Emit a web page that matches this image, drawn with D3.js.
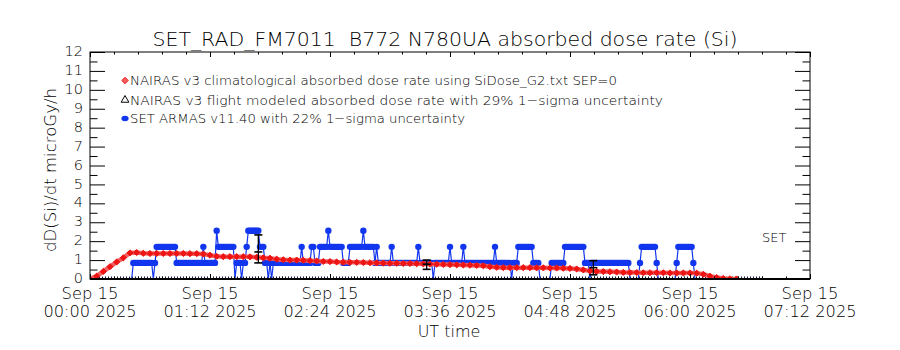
<!DOCTYPE html>
<html>
<head>
<meta charset="utf-8">
<script src="https://cdn.jsdelivr.net/npm/d3@7"></script>
<style>
  body { margin: 0; background: #fff; }
  text { font-family: "DejaVu Sans", sans-serif; font-weight: 200; fill: #000; }
</style>
</head>
<body>
<svg id="chart" width="900" height="350"></svg>
<script>
// Time is minutes after 2025-09-15 00:00 UT.
const xTickMinutes = [0, 72, 144, 216, 288, 360, 432];
const xTickDates = ["Sep 15", "Sep 15", "Sep 15", "Sep 15", "Sep 15", "Sep 15", "Sep 15"];
const xTickTimes = ["00:00 2025", "01:12 2025", "02:24 2025", "03:36 2025", "04:48 2025", "06:00 2025", "07:12 2025"];
const yTicks = [0, 1, 2, 3, 4, 5, 6, 7, 8, 9, 10, 11, 12];

// NAIRAS v3 climatological dose rate (microGy/h), one value every 4 minutes from 00:00
const nairasClimStep = 4;
const nairasClim = [
  0.00, 0.15, 0.40, 0.65, 0.90, 1.12, 1.38, 1.40, 1.36, 1.35,
  1.35, 1.35, 1.35, 1.35, 1.35, 1.34, 1.34, 1.32, 1.26, 1.20,
  1.18, 1.18, 1.18, 1.18, 1.17, 1.15, 1.12, 1.10, 1.05, 1.02,
  1.00, 1.00, 0.99, 0.97, 0.95, 0.93, 0.92, 0.90, 0.89, 0.88,
  0.88, 0.87, 0.86, 0.85, 0.84, 0.83, 0.83, 0.82, 0.82, 0.81,
  0.80, 0.79, 0.78, 0.77, 0.76, 0.75, 0.74, 0.73, 0.72, 0.70,
  0.65, 0.62, 0.60, 0.60, 0.60, 0.60, 0.60, 0.59, 0.59, 0.58,
  0.58, 0.57, 0.56, 0.53, 0.48, 0.43, 0.40, 0.39, 0.38, 0.37,
  0.35, 0.34, 0.34, 0.33, 0.33, 0.33, 0.33, 0.32, 0.32, 0.32,
  0.32, 0.31, 0.25, 0.15, 0.08, 0.03, 0.01, 0.00
];

// NAIRAS v3 flight-modelled points with their 1-sigma range
const modelTimes = [101, 202, 302];
const modelDose = [1.43, 0.78, 0.60];
const modelLow = [0.85, 0.51, 0.22];
const modelHigh = [2.33, 1.00, 0.97];

// SET ARMAS readings, one per minute from 00:00, as multiples of the instrument step
const armasStep = 1;
const armasQuantum = 0.85;
const armasRows = [
  "0000000000", "0000000000", "0000001111", "1111111101", "2222222222",
  "2211111111", "1111111121", "1111113222", "2222222011", "1011233333",
  "3322211010", "1111111111", "1111111211", "1112211122", "2223222222",
  "2211112222", "2222322222", "2121111111", "1211111111", "1111111211",
  "1111110111", "1111112111", "1111211111", "1111111111", "1112111111",
  "1110111222", "2222221111", "0000000111", "1111122222", "2222222111",
  "0111111111", "1111111111", "1111000000", "1222222222", "1000000000",
  "0012222222", "2210000000", "0000000000", "0000000000", "0000000000",
  "000000"
];

const legendLabels = [
  "NAIRAS v3 climatological absorbed dose rate using SiDose_G2.txt SEP=0",
  "NAIRAS v3 flight modeled absorbed dose rate with 29% 1\u2212sigma uncertainty",
  "SET ARMAS v11.40 with 22% 1\u2212sigma uncertainty"
];

const RED = "#ee1414", RED_LIGHT = "#f26060", BLUE = "#1236ee", NAVY = "#141440";

const plot = { left: 90, right: 810, top: 52, bottom: 279 };
const svg = d3.select("#chart");

const x = d3.scaleLinear().domain([0, 432]).range([plot.left, plot.right]);
const y = d3.scaleLinear().domain([0, 12]).range([plot.bottom, plot.top]);

svg.append("defs").append("clipPath").attr("id", "plot-clip")
  .append("rect")
  .attr("x", plot.left).attr("y", plot.top)
  .attr("width", plot.right - plot.left).attr("height", plot.bottom - plot.top);

const climData = nairasClim.map((v, i) => ({ t: i * nairasClimStep, v }));
const armasData = armasRows.join("").split("").map((c, i) => ({ t: i * armasStep, v: +c * armasQuantum }));
const modelData = modelTimes.map((t, i) => ({ t, v: modelDose[i], lo: modelLow[i], hi: modelHigh[i] }));

const g = svg.append("g").attr("clip-path", "url(#plot-clip)");

// flight track along the zero line
const trackEnd = d3.max(armasData, d => d.t);
g.append("line")
  .attr("x1", x(0)).attr("x2", x(trackEnd))
  .attr("y1", y(0) - 1.5).attr("y2", y(0) - 1.5)
  .attr("stroke", NAVY).attr("stroke-width", 2).attr("stroke-dasharray", "1 2");

// ARMAS: thin connecting line and filled dots
g.append("path")
  .datum(armasData)
  .attr("fill", "none").attr("stroke", BLUE).attr("stroke-width", 1.2)
  .attr("d", d3.line().x(d => x(d.t)).y(d => y(d.v)));
g.selectAll("circle.armas")
  .data(armasData.filter(d => d.v > 0))
  .join("circle").attr("class", "armas")
  .attr("cx", d => x(d.t)).attr("cy", d => y(d.v)).attr("r", 3.2)
  .attr("fill", BLUE);

// NAIRAS climatology: band plus diamond markers
g.append("path")
  .datum(climData)
  .attr("fill", "none").attr("stroke", RED_LIGHT).attr("stroke-width", 4.5)
  .attr("stroke-linejoin", "round")
  .attr("d", d3.line().x(d => x(d.t)).y(d => y(d.v)));
const diamond = d3.symbol().type(d3.symbolDiamond2).size(24);
g.selectAll("path.clim")
  .data(climData)
  .join("path").attr("class", "clim")
  .attr("transform", d => `translate(${x(d.t)},${y(d.v)})`)
  .attr("d", diamond)
  .attr("fill", RED).attr("stroke", RED).attr("stroke-width", 1);

// NAIRAS flight model: error bars with caps
const model = g.selectAll("g.model").data(modelData).join("g").attr("class", "model");
model.append("line")
  .attr("x1", d => x(d.t)).attr("x2", d => x(d.t))
  .attr("y1", d => y(d.lo)).attr("y2", d => y(d.hi))
  .attr("stroke", "#000").attr("stroke-width", 1.3);
["lo", "v", "hi"].forEach(k => {
  model.append("line")
    .attr("x1", d => x(d.t) - 4).attr("x2", d => x(d.t) + 4)
    .attr("y1", d => y(d[k])).attr("y2", d => y(d[k]))
    .attr("stroke", "#000").attr("stroke-width", 1.6);
});

// frame
svg.append("rect")
  .attr("x", plot.left).attr("y", plot.top)
  .attr("width", plot.right - plot.left).attr("height", plot.bottom - plot.top)
  .attr("fill", "none").attr("stroke", "#000").attr("stroke-width", 1);
svg.append("line")
  .attr("x1", plot.left).attr("x2", plot.right)
  .attr("y1", plot.bottom).attr("y2", plot.bottom)
  .attr("stroke", "#000").attr("stroke-width", 2);

// axes: ticks point inward on all four sides
const xMinor = d3.range(0, 432 + 0.01, 14.4);
const yMinor = d3.range(0.5, 12, 1);
function styleAxis(sel) {
  sel.select(".domain").remove();
  sel.selectAll("line").attr("stroke", "#000").attr("stroke-width", 1);
  sel.selectAll("text").attr("font-size", 14.5).attr("font-family", '"DejaVu Sans", sans-serif');
}
svg.append("g").attr("transform", `translate(0,${plot.bottom})`)
  .call(d3.axisBottom(x).tickValues(xMinor).tickSize(-2.5).tickFormat("")).call(styleAxis);
svg.append("g").attr("transform", `translate(0,${plot.bottom})`)
  .call(d3.axisBottom(x).tickValues(xTickMinutes).tickSize(-5).tickFormat("")).call(styleAxis);
svg.append("g").attr("transform", `translate(0,${plot.top})`)
  .call(d3.axisTop(x).tickValues(xMinor).tickSize(-2.5).tickFormat("")).call(styleAxis);
svg.append("g").attr("transform", `translate(0,${plot.top})`)
  .call(d3.axisTop(x).tickValues(xTickMinutes).tickSize(-5).tickFormat("")).call(styleAxis);

svg.append("g").attr("transform", `translate(${plot.left},0)`)
  .call(d3.axisLeft(y).tickValues(yMinor).tickSize(-7.5).tickFormat("")).call(styleAxis);
svg.append("g").attr("transform", `translate(${plot.left},0)`)
  .call(d3.axisLeft(y).tickValues(yTicks).tickSize(-15).tickPadding(7).tickFormat(d3.format("d")))
  .call(styleAxis)
  .call(s => s.selectAll("text").attr("dy", "0.25em"));
svg.append("g").attr("transform", `translate(${plot.right},0)`)
  .call(d3.axisRight(y).tickValues(yMinor).tickSize(-7.5).tickFormat("")).call(styleAxis);
svg.append("g").attr("transform", `translate(${plot.right},0)`)
  .call(d3.axisRight(y).tickValues(yTicks).tickSize(-15).tickFormat("")).call(styleAxis);

// two-line date labels under the time axis
const xl = svg.append("g").selectAll("text").data(xTickMinutes).join("text")
  .attr("text-anchor", "middle").attr("font-size", 15);
xl.append("tspan").attr("x", d => x(d)).attr("y", 299)
  .attr("textLength", 57).attr("lengthAdjust", "spacingAndGlyphs")
  .text((d, i) => xTickDates[i]);
xl.append("tspan").attr("x", d => x(d)).attr("y", 317)
  .attr("textLength", 93).attr("lengthAdjust", "spacingAndGlyphs")
  .text((d, i) => xTickTimes[i]);

svg.append("text").attr("x", 449).attr("y", 337)
  .attr("text-anchor", "middle").attr("font-size", 16).text("UT time");

svg.append("text")
  .attr("transform", "translate(56,170) rotate(-90)")
  .attr("text-anchor", "middle").attr("font-size", 16)
  .attr("textLength", 164).attr("lengthAdjust", "spacingAndGlyphs")
  .text("dD(Si)/dt microGy/h");

svg.append("text").attr("x", 445).attr("y", 46)
  .attr("text-anchor", "middle").attr("font-size", 20)
  .attr("textLength", 585).attr("lengthAdjust", "spacingAndGlyphs")
  .text("SET_RAD_FM7011\u00a0\u00a0B772 N780UA absorbed dose rate (Si)");

svg.append("text").attr("x", 762).attr("y", 242).attr("font-size", 13).text("SET");

// legend
const legendY = [80.5, 100, 118.5];
const legendEnd = [617, 663, 465];
const lg = svg.append("g");
legendLabels.forEach((label, i) => {
  lg.append("text").attr("x", 130).attr("y", legendY[i] + 4.5)
    .attr("font-size", 13)
    .attr("textLength", legendEnd[i] - 130).attr("lengthAdjust", "spacingAndGlyphs")
    .text(label);
});
lg.append("path").attr("transform", `translate(125,${legendY[0]})`)
  .attr("d", d3.symbol().type(d3.symbolDiamond2).size(26))
  .attr("fill", RED_LIGHT).attr("stroke", RED).attr("stroke-width", 1);
lg.append("path").attr("transform", `translate(125,${legendY[1]})`)
  .attr("d", d3.symbol().type(d3.symbolTriangle).size(26))
  .attr("fill", "none").attr("stroke", "#000").attr("stroke-width", 1);
lg.append("ellipse").attr("cx", 125).attr("cy", legendY[2]).attr("rx", 3.6).attr("ry", 2.8)
  .attr("fill", BLUE);
</script>
</body>
</html>
